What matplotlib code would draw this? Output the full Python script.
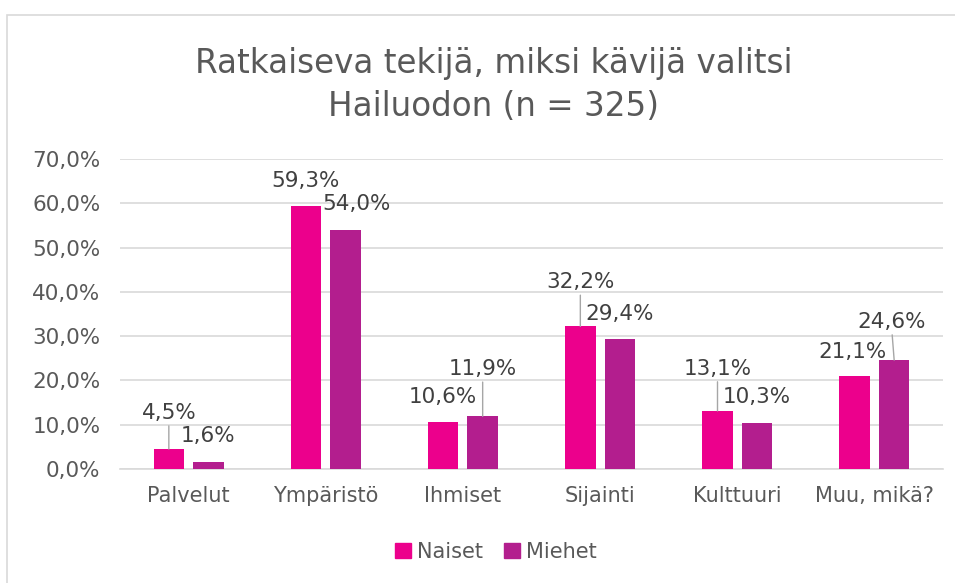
import matplotlib
matplotlib.use("Agg")
import numpy as np
from matplotlib import pyplot as plt
from matplotlib.patches import Rectangle, Patch

# data
categories = ["Palvelut", "Ympäristö", "Ihmiset", "Sijainti", "Kulttuuri", "Muu, mikä?"]
naiset = [4.5, 59.3, 10.6, 32.2, 13.1, 21.1]
miehet = [1.6, 54.0, 11.9, 29.4, 10.3, 24.6]
series_names = ["Naiset", "Miehet"]
title = "Ratkaiseva tekijä, miksi kävijä valitsi\nHailuodon (n = 325)"

# label placement (pixels from bar top), leader line flag
naiset_lbl = [(0, 36, True), (0, 25, False), (0, 25, False), (0, 44, True), (0, 42, True), (-2, 24, False)]
miehet_lbl = [(0, 26, False), (11, 26, False), (0, 47, True), (0, 25, False), (0, 26, False), (-3, 38, True)]

colors = ["#EC008C", "#B31E8E"]
text_col = "#595959"
label_col = "#404040"
grid_col = "#D9D9D9"

plt.rcParams['font.family'] = ['DejaVu Sans']

fig = plt.figure(figsize=(9.55, 5.83), dpi=100)
ax = fig.add_axes([120 / 955, 114 / 583, 823 / 955, 310 / 583])

x = np.arange(len(categories))
width = 0.222
offset = 0.144

for vals, lbls, col, sgn in [(naiset, naiset_lbl, colors[0], -1), (miehet, miehet_lbl, colors[1], 1)]:
    xs = x + sgn * offset
    ax.bar(xs, vals, width=width, color=col, zorder=3)
    for xi, v, (dx, dy, leader) in zip(xs, vals, lbls):
        txt = ("%.1f%%" % v).replace(".", ",")
        kw = {}
        if leader:
            kw["arrowprops"] = dict(arrowstyle="-", color="#A6A6A6", lw=1,
                                    shrinkA=0, shrinkB=0)
        ax.annotate(txt, xy=(xi, v), xytext=(dx, dy), textcoords="offset pixels",
                    ha="center", va="center", fontsize=15.5, color=label_col,
                    annotation_clip=False, **kw)

ax.set_xlim(-0.5, len(categories) - 0.5)
ax.set_ylim(0, 70)
ax.set_yticks(np.arange(0, 71, 10))
ax.set_yticklabels([("%.1f%%" % t).replace(".", ",") for t in np.arange(0, 71, 10)])
ax.set_xticks(x)
ax.set_xticklabels(categories)
ax.tick_params(axis="both", length=0, labelsize=15, colors=text_col)
ax.tick_params(axis="y", labelsize=15.5, pad=14)
ax.tick_params(axis="x", pad=12)
ax.grid(axis="y", color=grid_col, lw=1.2, zorder=0)
for s in ["top", "right", "left"]:
    ax.spines[s].set_visible(False)
ax.spines["bottom"].set_color(grid_col)
ax.spines["bottom"].set_linewidth(1.2)

fig.text(0.5 * (197 + 790) / 955, 1 - 85 / 583, title, ha="center", va="center",
         fontsize=23.5, color=text_col, linespacing=1.4)

handles = [Patch(color=c) for c in colors]
fig.legend(handles, series_names, loc="center", bbox_to_anchor=(496 / 955, 1 - 552 / 583),
           ncol=2, frameon=False, fontsize=15, labelcolor=text_col,
           handlelength=0.75, handleheight=0.75, handletextpad=0.3, columnspacing=1.0)

# chart border
fig.add_artist(Rectangle((7 / 955, -0.1), 1.1, 1.1 - 15 / 583, transform=fig.transFigure,
                         fill=False, edgecolor=grid_col, lw=1.2))

plt.savefig("out.png", dpi=100)
